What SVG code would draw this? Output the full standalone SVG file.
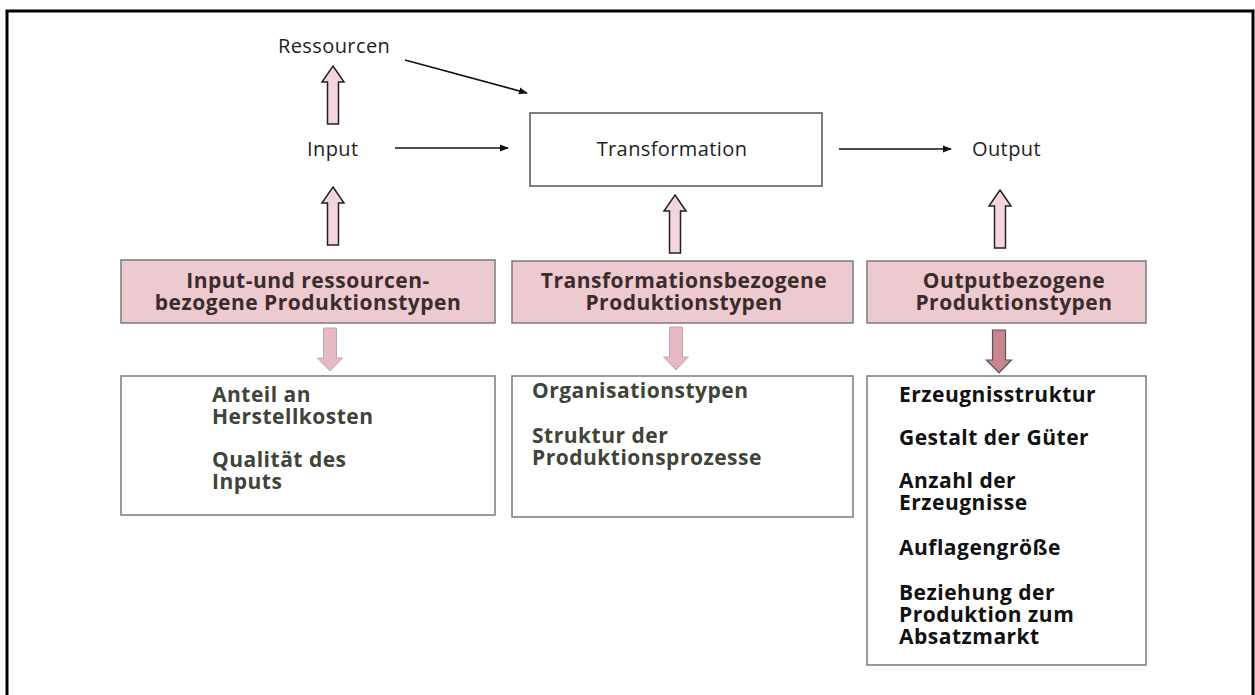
<svg xmlns="http://www.w3.org/2000/svg" width="1255" height="695" viewBox="0 0 1255 695">
  <style>
    .lbl { font-family: "Open Sans", "Liberation Sans", sans-serif; font-size: 20px; letter-spacing: 0.4px; fill: #1e1e1e; }
    .head { font-family: "Open Sans", "Liberation Sans", sans-serif; font-size: 21px; letter-spacing: 0.5px; font-weight: bold; fill: #3b2c2c; text-anchor: middle; }
    .item { font-family: "Open Sans", "Liberation Sans", sans-serif; font-size: 21px; letter-spacing: 0.5px; font-weight: bold; fill: #3f4438; }
    .item-dark { font-family: "Open Sans", "Liberation Sans", sans-serif; font-size: 21px; letter-spacing: 0.5px; font-weight: bold; fill: #111; }
    .pinkbox { fill: #edc9d0; stroke: #7a7a7a; stroke-width: 1.5; }
    .whitebox { fill: #ffffff; stroke: #7a7a7a; stroke-width: 1.5; }
    .plain { fill: #ffffff; stroke: #555; stroke-width: 1.5; }
    .up { fill: #f3d6dc; stroke: #222; stroke-width: 1.5; stroke-linejoin: miter; }
    .down { fill: #e6bac3; stroke: #c9a3ab; stroke-width: 1; }
    .down-dark { fill: #c98690; stroke: #555; stroke-width: 1.2; }
    .conn { stroke: #111; stroke-width: 1.6; fill: none; }
  </style>
  <defs>
    <marker id="tip" viewBox="0 0 10 10" refX="9" refY="5" markerWidth="9" markerHeight="9" markerUnits="userSpaceOnUse" orient="auto">
      <path d="M0,1 L10,5 L0,9 Z" fill="#111"/>
    </marker>
    <path id="upArrow" d="M0,0 L11,16 L5.5,16 L5.5,58 L-5.5,58 L-5.5,16 L-11,16 Z"/>
    <path id="downArrow" d="M-6.5,0 L6.5,0 L6.5,30 L12.5,30 L0,43 L-12.5,30 L-6.5,30 Z"/>
  </defs>

  <!-- frame -->
  <rect x="7" y="11" width="1246" height="700" fill="none" stroke="#000" stroke-width="3"/>

  <!-- flow labels -->
  <g id="ressourcen"><text class="lbl" x="278" y="53">Ressourcen</text></g>
  <g id="input"><text class="lbl" x="307" y="156">Input</text></g>
  <g id="output"><text class="lbl" x="972" y="156">Output</text></g>
  <g id="transformation">
    <rect class="plain" x="530" y="113" width="292" height="73"/>
    <text class="lbl" x="672" y="156" text-anchor="middle">Transformation</text>
  </g>

  <!-- category headers -->
  <g id="cat-input">
    <rect class="pinkbox" x="121" y="260" width="374" height="63"/>
    <text class="head" x="308" y="288">Input-und ressourcen-</text>
    <text class="head" x="308" y="310">bezogene Produktionstypen</text>
  </g>
  <g id="cat-transformation">
    <rect class="pinkbox" x="512" y="261" width="341" height="62"/>
    <text class="head" x="684" y="288">Transformationsbezogene</text>
    <text class="head" x="684" y="310">Produktionstypen</text>
  </g>
  <g id="cat-output">
    <rect class="pinkbox" x="867" y="261" width="279" height="62"/>
    <text class="head" x="1014" y="288">Outputbezogene</text>
    <text class="head" x="1014" y="310">Produktionstypen</text>
  </g>

  <!-- feature lists -->
  <g id="list-input">
    <rect class="whitebox" x="121" y="376" width="374" height="139"/>
    <text class="item" x="212" y="402">Anteil an</text>
    <text class="item" x="212" y="424">Herstellkosten</text>
    <text class="item" x="212" y="467">Qualität des</text>
    <text class="item" x="212" y="489">Inputs</text>
  </g>
  <g id="list-transformation">
    <rect class="whitebox" x="512" y="376" width="341" height="141"/>
    <text class="item" x="532" y="398">Organisationstypen</text>
    <text class="item" x="532" y="443">Struktur der</text>
    <text class="item" x="532" y="465">Produktionsprozesse</text>
  </g>
  <g id="list-output">
    <rect class="whitebox" x="867" y="376" width="279" height="289"/>
    <text class="item-dark" x="899" y="402">Erzeugnisstruktur</text>
    <text class="item-dark" x="899" y="445">Gestalt der Güter</text>
    <text class="item-dark" x="899" y="488">Anzahl der</text>
    <text class="item-dark" x="899" y="510">Erzeugnisse</text>
    <text class="item-dark" x="899" y="555">Auflagengröße</text>
    <text class="item-dark" x="899" y="600">Beziehung der</text>
    <text class="item-dark" x="899" y="622">Produktion zum</text>
    <text class="item-dark" x="899" y="644">Absatzmarkt</text>
  </g>

  <!-- connectors -->
  <g id="connectors">
    <line class="conn" x1="405" y1="60" x2="527" y2="93" marker-end="url(#tip)"/>
    <line class="conn" x1="395" y1="148" x2="508" y2="148" marker-end="url(#tip)"/>
    <line class="conn" x1="839" y1="149" x2="951" y2="149" marker-end="url(#tip)"/>
    <use href="#upArrow" class="up" x="333" y="66"/>
    <use href="#upArrow" class="up" x="333" y="187"/>
    <use href="#upArrow" class="up" x="675" y="195"/>
    <use href="#upArrow" class="up" x="1000" y="190"/>
    <use href="#downArrow" class="down" x="330" y="328"/>
    <use href="#downArrow" class="down" x="676" y="327"/>
    <use href="#downArrow" class="down-dark" x="999" y="330"/>
  </g>
</svg>
